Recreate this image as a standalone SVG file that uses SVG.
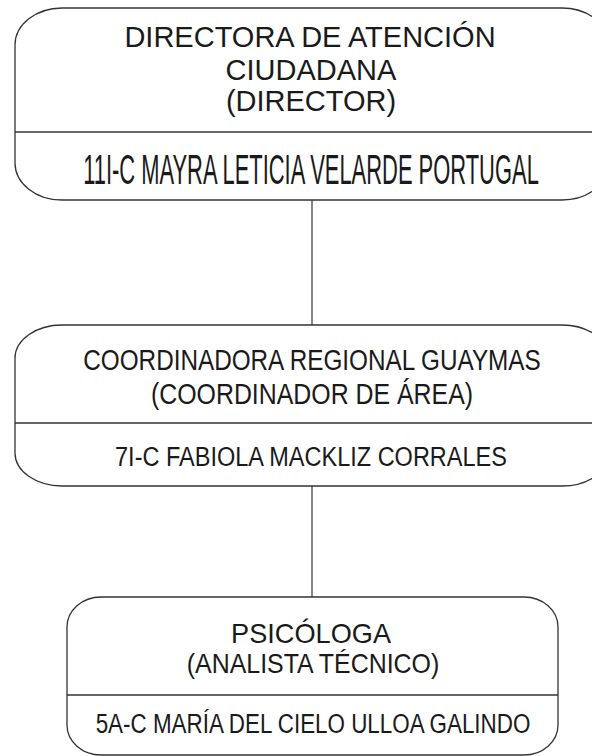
<svg xmlns="http://www.w3.org/2000/svg" width="592" height="756" viewBox="0 0 592 756">
<style>
.box{fill:#fff;stroke:#333;stroke-width:1.3}
.div{stroke:#333;stroke-width:1.3}
.conn{stroke:#444;stroke-width:1.3;fill:none}
text{font-family:"Liberation Sans",Arial,sans-serif;fill:#1a1a1a;text-anchor:middle}
.t{font-size:29px}
.t2{font-size:30px}
.n1{font-size:42px}
.n{font-size:28px}
</style>
<rect width="592" height="756" fill="#fff"/>
<g id="connectors">
<line class="conn" x1="312" y1="200" x2="312" y2="325"/>
<line class="conn" x1="312" y1="486" x2="312" y2="597"/>
</g>
<g id="node-director">
<rect class="box" x="15" y="8" width="594" height="192" rx="47" ry="37"/>
<line class="div" x1="15" y1="132" x2="609" y2="132"/>
<text class="t" x="310" y="47">DIRECTORA DE ATENCIÓN</text>
<text class="t" x="311" y="80">CIUDADANA</text>
<text class="t" x="311" y="111">(DIRECTOR)</text>
<text class="n1" transform="translate(311,184) scale(0.522,1)">11I-C MAYRA LETICIA VELARDE PORTUGAL</text>
</g>
<g id="node-coordinadora">
<rect class="box" x="15" y="325" width="594" height="161" rx="47" ry="33"/>
<line class="div" x1="15" y1="423" x2="609" y2="423"/>
<text class="t2" transform="translate(312,370) scale(0.81,1)">COORDINADORA REGIONAL GUAYMAS</text>
<text class="t2" transform="translate(312,404) scale(0.83,1)">(COORDINADOR DE ÁREA)</text>
<text class="n" transform="translate(311,466) scale(0.84,1)">7I-C FABIOLA MACKLIZ CORRALES</text>
</g>
<g id="node-psicologa">
<rect class="box" x="67" y="597" width="491" height="158" rx="34" ry="30"/>
<line class="div" x1="67" y1="695" x2="558" y2="695"/>
<text class="n" transform="translate(311,643) scale(0.97,1)">PSICÓLOGA</text>
<text class="n" transform="translate(313,673) scale(0.89,1)">(ANALISTA TÉCNICO)</text>
<text class="n" transform="translate(313,733) scale(0.80,1)">5A-C MARÍA DEL CIELO ULLOA GALINDO</text>
</g>
</svg>
